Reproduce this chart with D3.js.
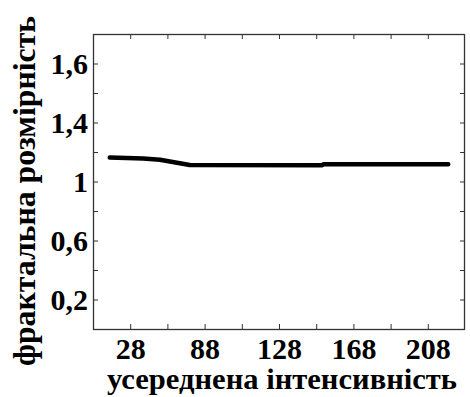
<!DOCTYPE html>
<html>
<head>
<meta charset="utf-8">
<script src="https://cdn.jsdelivr.net/npm/d3@7"></script>
<style>
  html, body { margin: 0; padding: 0; background: #fff; }
  svg { display: block; }
</style>
</head>
<body>
<svg id="chart" width="470" height="397"></svg>
<script>
// Averaged intensity vs. fractal dimension
const intensity = [37, 55, 64, 80, 151, 152, 219];
const fractalDim = [1.163, 1.156, 1.148, 1.112, 1.110, 1.117, 1.117];

// Axis ticks and the labels printed at them
const xTickValues = [48, 88, 128, 168, 208];
const xTickLabels = ["28", "88", "128", "168", "208"];
const xMinorTicks = [48, 68, 88, 108, 128, 148, 168, 188, 208];
const yTickValues = [0.2, 0.6, 1.0, 1.4, 1.8];
const yTickLabels = ["0,2", "0,6", "1", "1,4", "1,6"];
const yMinorTicks = [0.2, 0.4, 0.6, 0.8, 1.0, 1.2, 1.4, 1.6, 1.8];

const xTitle = "усереднена інтенсивність";
const yTitle = "фрактальна розмірність";

const FONT = "Liberation Serif";
const svg = d3.select("#chart");
const margin = { left: 93, top: 34, right: 5, bottom: 68 };
const W = 470, H = 397;
const x0 = margin.left, x1 = W - margin.right;
const y0 = H - margin.bottom, y1 = margin.top;

const x = d3.scaleLinear().domain([28, 228]).range([x0, x1]);
const y = d3.scaleLinear().domain([0, 2]).range([y0, y1]);

const tickLen = 5;
const frameColor = "#333";

// Minor tick marks on all four sides, pointing inward
const g = svg.append("g");
g.append("g").attr("transform", `translate(0,${y0})`)
  .call(d3.axisTop(x).tickValues(xMinorTicks).tickSize(tickLen).tickFormat(""))
  .call(a => a.select(".domain").remove());
g.append("g").attr("transform", `translate(0,${y1})`)
  .call(d3.axisBottom(x).tickValues(xMinorTicks).tickSize(tickLen).tickFormat(""))
  .call(a => a.select(".domain").remove());
g.append("g").attr("transform", `translate(${x0},0)`)
  .call(d3.axisRight(y).tickValues(yMinorTicks).tickSize(tickLen).tickFormat(""))
  .call(a => a.select(".domain").remove());
g.append("g").attr("transform", `translate(${x1},0)`)
  .call(d3.axisLeft(y).tickValues(yMinorTicks).tickSize(tickLen).tickFormat(""))
  .call(a => a.select(".domain").remove());
g.selectAll(".tick line").attr("stroke", frameColor).attr("stroke-width", 1);

// Tick labels
const xLab = g.append("g").attr("transform", `translate(0,${y0})`)
  .call(d3.axisBottom(x).tickValues(xTickValues).tickSize(0).tickPadding(0)
    .tickFormat((d, i) => xTickLabels[i]))
  .call(a => a.select(".domain").remove());
xLab.attr("font-family", FONT).attr("font-weight", "bold").attr("font-size", 30);
xLab.selectAll("text").attr("y", 30).attr("dy", null).attr("fill", "#000");

const yLab = g.append("g").attr("transform", `translate(${x0},0)`)
  .call(d3.axisLeft(y).tickValues(yTickValues).tickSize(0).tickPadding(5)
    .tickFormat((d, i) => yTickLabels[i]))
  .call(a => a.select(".domain").remove());
yLab.attr("font-family", FONT).attr("font-weight", "bold").attr("font-size", 30);
yLab.selectAll("text").attr("fill", "#000");

// Frame
svg.append("rect")
  .attr("x", x0 + 0.5).attr("y", y1 + 0.5)
  .attr("width", x1 - x0 - 1).attr("height", y0 - y1)
  .attr("fill", "none").attr("stroke", frameColor).attr("stroke-width", 1.3);

// Data line
const line = d3.line().x((d, i) => x(intensity[i])).y(d => y(d));
svg.append("path")
  .datum(fractalDim)
  .attr("d", line)
  .attr("fill", "none")
  .attr("stroke", "#000")
  .attr("stroke-width", 4.5)
  .attr("stroke-linecap", "round")
  .attr("stroke-linejoin", "round");

// Axis titles (tall, narrow lettering)
svg.append("text")
  .attr("x", 107).attr("y", 389)
  .attr("font-family", FONT).attr("font-weight", "bold").attr("font-size", 30)
  .attr("textLength", 350).attr("lengthAdjust", "spacingAndGlyphs")
  .text(xTitle);
svg.append("text")
  .attr("transform", `translate(35,366) rotate(-90)`)
  .attr("font-family", FONT).attr("font-weight", "bold").attr("font-size", 32)
  .attr("textLength", 350).attr("lengthAdjust", "spacingAndGlyphs")
  .text(yTitle);
</script>
</body>
</html>
